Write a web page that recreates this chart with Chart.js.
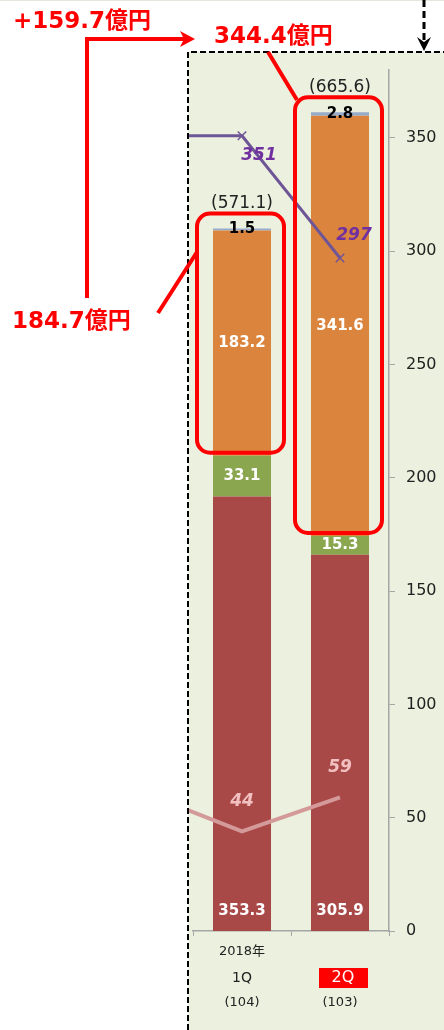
<!DOCTYPE html>
<html lang="ja">
<head>
  <meta charset="UTF-8">
  <title>chart</title>
  <script src="https://cdn.jsdelivr.net/npm/chart.js"></script>
  <style>
    html, body { margin: 0; padding: 0; background: #fff; }
    #wrap { width: 444px; height: 1030px; position: relative; }
  </style>
</head>
<body>
  <div id="wrap"><canvas id="myChart"></canvas></div>
  <script>
    // 先頭の '4Q' は左にはみ出す前期分（折れ線の入り口だけ見える）
    const labels = ['4Q', '1Q', '2Q'];
    const yearLabels = ['', '2018年', ''];
    const countLabels = ['', '(104)', '(103)'];

    const redSeg = [null, 353.3, 305.9];
    const greenSeg = [null, 33.1, 15.3];
    const orangeSeg = [null, 183.2, 341.6];
    const graySeg = [null, 1.5, 2.8];
    const totals = [null, 571.1, 665.6];

    const purpleLine = [351, 351, 297];
    const pinkLine = [61, 44, 59];

    const rightTicks = [0, 50, 100, 150, 200, 250, 300, 350];
    const noteTexts = ['+159.7億円', '344.4億円', '184.7億円'];

    const FONT = '"DejaVu Sans", "Noto Sans CJK JP", sans-serif';
    const RED = '#FF0000';

    function roundRect(c, x, y, w, h, r) {
      c.beginPath();
      c.moveTo(x + r, y);
      c.arcTo(x + w, y, x + w, y + h, r);
      c.arcTo(x + w, y + h, x, y + h, r);
      c.arcTo(x, y + h, x, y, r);
      c.arcTo(x, y, x + w, y, r);
      c.closePath();
      c.stroke();
    }

    const decor = {
      id: 'decor',
      beforeDraw(chart) {
        const c = chart.ctx;
        c.save();
        c.fillStyle = '#fff';
        c.fillRect(0, 0, chart.width, chart.height);
        c.fillStyle = '#EBF1DE';
        c.fillRect(188, 52, chart.width - 188, chart.height - 52);
        c.fillStyle = '#E3E8D8';
        c.fillRect(0, 0, chart.width, 1);

        // x labels
        const x = chart.scales.x;
        c.textAlign = 'center';
        c.textBaseline = 'middle';
        [1, 2].forEach(i => {
          const px = x.getPixelForValue(i);
          c.fillStyle = '#222';
          c.font = '13px ' + FONT;
          if (yearLabels[i]) c.fillText(yearLabels[i], px, 952);
          c.fillText(countLabels[i], px, 1003);
          if (i === 2) {
            c.fillStyle = RED;
            c.fillRect(px - 21, 968, 49, 20);
            c.fillStyle = '#fff';
            c.font = '16px ' + FONT;
            c.fillText(labels[i], px + 3, 978);
          } else {
            c.font = '14px ' + FONT;
            c.fillText(labels[i], px, 978);
          }
        });
        c.restore();
      },
      afterDatasetsDraw(chart) {
        const c = chart.ctx;
        c.save();
        c.textAlign = 'center';
        c.textBaseline = 'middle';
        [1, 2].forEach(i => {
          const r = chart.getDatasetMeta(0).data[i];
          const g = chart.getDatasetMeta(1).data[i];
          const o = chart.getDatasetMeta(2).data[i];
          const t = chart.getDatasetMeta(3).data[i];
          c.font = 'bold 15px ' + FONT;
          c.fillStyle = '#fff';
          c.fillText(redSeg[i].toFixed(1), r.x, r.base - 20);
          c.fillText(greenSeg[i].toFixed(1), g.x, (g.y + g.base) / 2);
          c.fillText(orangeSeg[i].toFixed(1), o.x, (o.y + o.base) / 2);
          c.fillStyle = '#000';
          c.fillText(graySeg[i].toFixed(1), t.x, (t.y + t.base) / 2);
          c.font = '17px ' + FONT;
          c.fillStyle = '#222';
          c.fillText('(' + totals[i].toFixed(1) + ')', t.x, t.y - 25);

          // red frame around orange + gray
          c.strokeStyle = RED;
          c.lineWidth = 4;
          roundRect(c, o.x - 45, t.y - 15, 87, o.base - 3 - (t.y - 15), 13);
        });

        // line labels
        const pm = chart.getDatasetMeta(4).data;
        c.font = 'italic bold 17px ' + FONT;
        c.fillStyle = '#7030A0';
        c.fillText(String(purpleLine[1]), pm[1].x + 17, pm[1].y + 20);
        c.fillText(String(purpleLine[2]), pm[2].x + 14, pm[2].y - 22);
        const km = chart.getDatasetMeta(5).data;
        c.fillStyle = '#F2C0C0';
        c.fillText(String(pinkLine[1]), km[1].x, km[1].y - 30);
        c.fillText(String(pinkLine[2]), km[2].x, km[2].y - 30);
        c.restore();
      },
      afterDraw(chart) {
        const c = chart.ctx;
        c.save();
        // dashed frame
        c.strokeStyle = '#000';
        c.lineWidth = 2;
        c.setLineDash([6, 3]);
        c.beginPath();
        c.moveTo(188, chart.height);
        c.lineTo(188, 52);
        c.lineTo(chart.width, 52);
        c.stroke();
        c.lineWidth = 3;
        c.setLineDash([7, 4]);
        c.beginPath();
        c.moveTo(424, 0);
        c.lineTo(424, 42);
        c.stroke();
        c.setLineDash([]);
        c.fillStyle = '#000';
        c.beginPath();
        c.moveTo(424, 51);
        c.lineTo(417, 37);
        c.lineTo(424, 42);
        c.lineTo(431, 37);
        c.closePath();
        c.fill();

        // red notes
        c.strokeStyle = RED;
        c.fillStyle = RED;
        c.lineWidth = 4;
        c.beginPath();
        c.moveTo(87, 298);
        c.lineTo(87, 39);
        c.lineTo(186, 39);
        c.moveTo(158, 313);
        c.lineTo(197, 252);
        c.moveTo(268, 52);
        c.lineTo(297, 100);
        c.stroke();
        c.beginPath();
        c.moveTo(195, 39);
        c.lineTo(180, 31);
        c.lineTo(184, 39);
        c.lineTo(180, 47);
        c.closePath();
        c.fill();

        c.font = 'bold 23px ' + FONT;
        c.textAlign = 'left';
        c.textBaseline = 'middle';
        c.fillText(noteTexts[0], 13, 22);
        c.fillText(noteTexts[1], 214, 37);
        c.fillText(noteTexts[2], 12, 322);
        c.restore();
      }
    };

    const lineClip = { left: 5, top: 0, right: 0, bottom: 0 };

    const ctx = document.getElementById('myChart').getContext('2d');
    const myChart = new Chart(ctx, {
      type: 'bar',
      data: {
        labels: labels,
        datasets: [
          { data: redSeg, backgroundColor: '#A84948', yAxisID: 'y', order: 2 },
          { data: greenSeg, backgroundColor: '#8AA64F', yAxisID: 'y', order: 2 },
          { data: orangeSeg, backgroundColor: '#DB843D', yAxisID: 'y', order: 2 },
          { data: graySeg, backgroundColor: '#97ABCB', yAxisID: 'y', order: 2 },
          {
            type: 'line', data: purpleLine, yAxisID: 'y1', order: 0,
            borderColor: '#6E5596', borderWidth: 3,
            pointStyle: 'crossRot', pointRadius: 6, pointBorderWidth: 1.5,
            pointBorderColor: '#6E5596', pointBackgroundColor: '#6E5596',
            clip: lineClip
          },
          {
            type: 'line', data: pinkLine, yAxisID: 'y1', order: 1,
            borderColor: '#D49A9A', borderWidth: 4, pointRadius: 0,
            clip: lineClip
          }
        ]
      },
      options: {
        responsive: true,
        maintainAspectRatio: false,
        animation: false,
        layout: { padding: { left: 193, top: 70, right: 0, bottom: 0 } },
        plugins: { legend: { display: false }, tooltip: { enabled: false } },
        datasets: { bar: { categoryPercentage: 1, barPercentage: 0.592 } },
        scales: {
          x: {
            stacked: true,
            min: '1Q',
            offset: true,
            grid: { offset: true, drawOnChartArea: false, tickLength: 5, color: '#A6A6A6' },
            border: { color: '#A6A6A6', width: 1.5 },
            ticks: { display: false },
            afterFit(s) { s.height = 99; }
          },
          y: { display: false, stacked: true, min: 0, max: 700 },
          y1: {
            position: 'right',
            min: 0,
            max: 380,
            grid: { drawOnChartArea: false, tickLength: 6, color: '#A6A6A6' },
            border: { color: '#A6A6A6', width: 1.5 },
            ticks: { color: '#222', font: { family: FONT, size: 16 }, padding: 11 },
            afterBuildTicks(s) { s.ticks = rightTicks.map(v => ({ value: v })); },
            afterFit(s) { s.width = 55; }
          }
        }
      },
      plugins: [decor]
    });
  </script>
</body>
</html>
